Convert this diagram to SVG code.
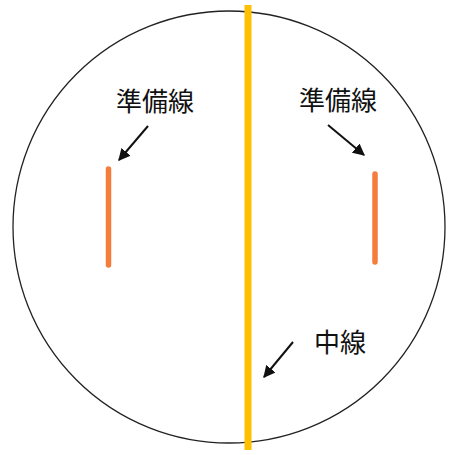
<svg xmlns="http://www.w3.org/2000/svg" width="457" height="455" viewBox="0 0 457 455">
<style>
.lbl{font-family:"Noto Sans CJK JP","Noto Sans",sans-serif;font-size:26px;fill:#111}
.prep{stroke:#f47c3c;stroke-width:5.5;stroke-linecap:round}
.arr{stroke:#111;stroke-width:2;fill:none;marker-end:url(#ah)}
</style>
<defs>
<marker id="ah" viewBox="0 0 10 10" refX="9" refY="5" markerWidth="6" markerHeight="6" orient="auto" markerUnits="strokeWidth">
<path d="M0,0 L10,5 L0,10 Z" fill="#111"/>
</marker>
</defs>
<rect width="457" height="455" fill="#fff"/>
<g id="field">
<circle cx="229" cy="227" r="216" fill="none" stroke="#222" stroke-width="1.3"/>
</g>
<g id="center-line">
<line x1="248" y1="5" x2="248" y2="450" stroke="#ffc000" stroke-width="7"/>
</g>
<g id="left-prep-line">
<line class="prep" x1="108.5" y1="169" x2="108.5" y2="265"/>
</g>
<g id="right-prep-line">
<line class="prep" x1="375" y1="174" x2="375" y2="262"/>
</g>
<g id="labels">
<text class="lbl" x="116" y="111">準備線</text>
<text class="lbl" x="299" y="110">準備線</text>
<text class="lbl" x="314" y="352">中線</text>
</g>
<g id="connectors">
<line class="arr" x1="148" y1="126" x2="119" y2="160"/>
<line class="arr" x1="328" y1="125" x2="364" y2="155"/>
<line class="arr" x1="293" y1="342" x2="264" y2="377"/>
</g>
</svg>
